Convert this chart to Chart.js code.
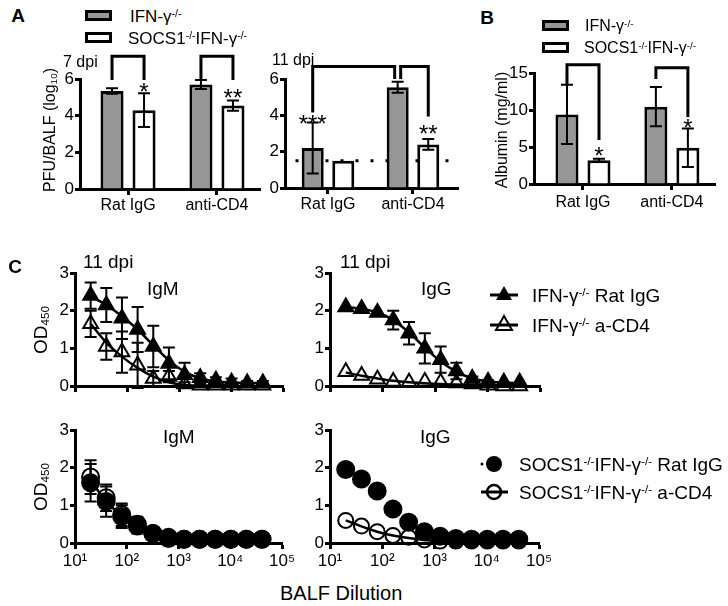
<!DOCTYPE html>
<html>
<head>
<meta charset="utf-8">
<script src="https://cdn.jsdelivr.net/npm/chart.js@4.4.0/dist/chart.umd.min.js"></script>
<style>
  body { margin: 0; background: #fff; }
  #page { position: relative; width: 728px; height: 606px; overflow: hidden;
          font-family: Arial, "Liberation Sans", sans-serif; color: #000; }
  canvas { position: absolute; }
  .t { position: absolute; white-space: nowrap; line-height: 1; transform: translateY(-50%); }
  .panel { position: absolute; font-size: 19px; font-weight: bold; line-height: 1; transform: translate(-50%, -50%); }
  .box { position: absolute; width: 21px; height: 5px; border: 3px solid #000; }
  .ytitle { position: absolute; white-space: nowrap; line-height: 1;
            transform: translate(-50%, -50%) rotate(-90deg); }
  sup { font-size: 62%; vertical-align: 0.45em; line-height: 0; }
  sub { font-size: 62%; vertical-align: -0.25em; line-height: 0; }
  svg { position: absolute; }
</style>
</head>
<body>
<div id="page">
  <canvas id="cA7"></canvas>
  <canvas id="cA11"></canvas>
  <canvas id="cB"></canvas>
  <canvas id="cTL"></canvas>
  <canvas id="cTR"></canvas>
  <canvas id="cBL"></canvas>
  <canvas id="cBR"></canvas>

  <!-- panel A -->
  <div class="panel" style="left:18px;top:15px">A</div>
  <div class="box" style="left:85px;top:10px;background:#969696"></div>
  <div class="t" style="left:130px;top:16px;font-size:17px">IFN-γ<sup>-/-</sup></div>
  <div class="box" style="left:85px;top:32px;background:#fff"></div>
  <div class="t" style="left:128px;top:38px;font-size:17px">SOCS1<sup>-/-</sup>IFN-γ<sup>-/-</sup></div>
  <div class="t" style="left:63px;top:62px;font-size:16px">7 dpi</div>
  <div class="t" style="left:272px;top:60px;font-size:16px">11 dpi</div>
  <div class="ytitle" style="left:50px;top:130px;font-size:16px">PFU/BALF (log<sub>10</sub>)</div>

  <!-- panel B -->
  <div class="panel" style="left:487px;top:17px">B</div>
  <div class="box" style="left:542px;top:20px;background:#969696"></div>
  <div class="t" style="left:585px;top:26px;font-size:16px">IFN-γ<sup>-/-</sup></div>
  <div class="box" style="left:542px;top:42px;background:#fff"></div>
  <div class="t" style="left:584px;top:48px;font-size:16px">SOCS1<sup>-/-</sup>IFN-γ<sup>-/-</sup></div>
  <div class="ytitle" style="left:502px;top:130px;font-size:16px">Albumin (mg/ml)</div>

  <!-- panel C -->
  <div class="panel" style="left:15px;top:266px">C</div>
  <div class="t" style="left:83px;top:261px;font-size:19px">11 dpi</div>
  <div class="t" style="left:340px;top:261px;font-size:19px">11 dpi</div>
  <div class="t" style="left:147px;top:288px;font-size:19px">IgM</div>
  <div class="t" style="left:421px;top:288px;font-size:19px">IgG</div>
  <div class="t" style="left:163px;top:436px;font-size:19px">IgM</div>
  <div class="t" style="left:420px;top:436px;font-size:19px">IgG</div>
  <div class="ytitle" style="left:40px;top:330px;font-size:19px">OD<sub>450</sub></div>
  <div class="ytitle" style="left:40px;top:487px;font-size:19px">OD<sub>450</sub></div>
  <div class="t" style="left:280px;top:593px;font-size:20px">BALF Dilution</div>

  <svg style="left:488px;top:280px" width="32" height="60">
    <line x1="2" y1="15" x2="30" y2="15" stroke="#000" stroke-width="3"/>
    <polygon points="16,6 24,20 8,20" fill="#000"/>
    <line x1="2" y1="45" x2="30" y2="45" stroke="#000" stroke-width="3"/>
    <polygon points="16,36 24,50 8,50" fill="none" stroke="#000" stroke-width="2"/>
  </svg>
  <div class="t" style="left:532px;top:295px;font-size:19px">IFN-γ<sup>-/-</sup> Rat IgG</div>
  <div class="t" style="left:532px;top:325px;font-size:19px">IFN-γ<sup>-/-</sup> a-CD4</div>

  <svg style="left:478px;top:450px" width="34" height="56">
    <circle cx="4" cy="14" r="1.5" fill="#000"/>
    <circle cx="16" cy="14" r="8" fill="#000"/>
    <line x1="3" y1="42" x2="30" y2="42" stroke="#000" stroke-width="3"/>
    <circle cx="16" cy="42" r="7" fill="none" stroke="#000" stroke-width="2.5"/>
  </svg>
  <div class="t" style="left:519px;top:464px;font-size:19px">SOCS1<sup>-/-</sup>IFN-γ<sup>-/-</sup> Rat IgG</div>
  <div class="t" style="left:519px;top:492px;font-size:19px">SOCS1<sup>-/-</sup>IFN-γ<sup>-/-</sup> a-CD4</div>
</div>

<script>
const FONT = 'Arial, "Liberation Sans", sans-serif';
Chart.defaults.font.family = FONT;
Chart.defaults.font.size = 16;
Chart.defaults.color = '#000';
Chart.defaults.animation = false;
Chart.defaults.plugins.legend.display = false;
Chart.defaults.plugins.tooltip.enabled = false;

////////////////////////////// DATA: PANELS A AND B //////////////////////////////
const groups = ['Rat IgG', 'anti-CD4'];

// PFU/BALF (log10), 7 dpi
const pfu7Ifn = [5.35, 5.7];
const pfu7IfnErr = [0.15, 0.25];
const pfu7Socs = [4.3, 4.55];
const pfu7SocsErr = [0.92, 0.28];

// PFU/BALF (log10), 11 dpi
const pfu11Ifn = [2.2, 5.55];
const pfu11IfnErr = [1.4, 0.3];
const pfu11Socs = [1.5, 2.4];
const pfu11SocsErr = [0, 0.3];
const pfuLimit = 1.5;

// Albumin (mg/ml)
const albIfn = [9.4, 10.45];
const albIfnErr = [4.0, 2.65];
const albSocs = [3.2, 4.9];
const albSocsErr = [0.2, 2.6];

////////////////////////////// DATA: PANEL C //////////////////////////////
const dilution = [20, 40, 80, 160, 320, 640, 1280, 2560, 5120, 10240, 20480, 40960];
const decades = [10, 100, 1000, 10000, 100000];

// IFN-g-/- , IgM
const igmIfnRat = [2.4, 2.15, 1.8, 1.5, 1.05, 0.6, 0.3, 0.22, 0.15, 0.1, 0.08, 0.08];
const igmIfnRatErr = [0.35, 0.45, 0.55, 0.6, 0.55, 0.42, 0.32, 0.12, 0.08, 0.1, 0.05, 0.05];
const igmIfnRatFit = [2.38, 2.15, 1.85, 1.5, 1.08, 0.68, 0.38, 0.2, 0.12, 0.09, 0.08, 0.08];
const igmIfnCd4 = [1.65, 1.05, 0.9, 0.55, 0.2, 0.25, 0.05, 0.02, 0.02, 0.02, 0.02, 0.02];
const igmIfnCd4Err = [0.35, 0.35, 0.55, 0.6, 0.2, 0.15, 0.05, 0.03, 0.02, 0.02, 0.02, 0.02];
const igmIfnCd4Fit = [1.65, 1.15, 0.78, 0.48, 0.25, 0.1, 0.03, 0.01, 0, 0, 0, 0];

// IFN-g-/- , IgG
const iggIfnRat = [2.1, 2.05, 1.95, 1.75, 1.4, 1.0, 0.7, 0.4, 0.2, 0.12, 0.1, 0.1];
const iggIfnRatErr = [0, 0, 0, 0.25, 0.3, 0.4, 0.35, 0.22, 0.05, 0.03, 0, 0];
const iggIfnRatFit = [2.1, 2.05, 1.95, 1.75, 1.42, 1.02, 0.65, 0.38, 0.2, 0.12, 0.09, 0.08];
const iggIfnCd4 = [0.38, 0.28, 0.18, 0.12, 0.1, 0.12, 0.1, 0.08, 0.05, 0.02, 0, 0];
const iggIfnCd4Err = [0, 0, 0, 0, 0, 0, 0, 0, 0, 0, 0, 0];
const iggIfnCd4Fit = [0.36, 0.27, 0.2, 0.14, 0.1, 0.07, 0.05, 0.04, 0.03, 0.03, 0.02, 0.02];

// SOCS1-/-IFN-g-/- , IgM
const igmSocsRat = [1.6, 1.1, 0.7, 0.45, 0.25, 0.15, 0.1, 0.1, 0.1, 0.1, 0.1, 0.1];
const igmSocsRatErr = [0.5, 0.4, 0.3, 0.2, 0, 0, 0, 0, 0, 0, 0, 0];
const igmSocsCd4 = [1.75, 1.2, 0.75, 0.5, 0.25, 0.12, 0.1, 0.1, 0.1, 0.1, 0.1, 0.1];
const igmSocsCd4Err = [0.45, 0.35, 0.3, 0.2, 0, 0, 0, 0, 0, 0, 0, 0];
const igmSocsFit = [1.65, 1.12, 0.72, 0.46, 0.26, 0.15, 0.1, 0.1, 0.1, 0.1, 0.1, 0.1];

// SOCS1-/-IFN-g-/- , IgG
const iggSocsRat = [1.95, 1.7, 1.38, 0.9, 0.55, 0.3, 0.18, 0.12, 0.1, 0.1, 0.1, 0.1];
const iggSocsCd4 = [0.6, 0.45, 0.3, 0.2, 0.15, 0.08, 0.05, 0.05, 0.05, 0.05, 0.05, 0.05];
const iggSocsCd4Fit = [0.6, 0.44, 0.3, 0.2, 0.13, 0.08, 0.05, 0.03, 0.02, 0.02, 0.02, 0.02];

const supDigits = { 1: '¹', 2: '²', 3: '³', 4: '⁴', 5: '⁵' };
const GRAY = '#969696';

////////////////////////////// PLUGINS //////////////////////////////
const errorBars = {
  id: 'errorBars',
  afterDatasetsDraw(chart) {
    const ctx = chart.ctx, ys = chart.scales.y;
    ctx.save();
    ctx.strokeStyle = '#000';
    chart.data.datasets.forEach((ds, i) => {
      if (!ds.err) return;
      const meta = chart.getDatasetMeta(i);
      ctx.lineWidth = ds.errWidth || 2;
      const cap = ds.errCap || 6;
      meta.data.forEach((el, j) => {
        const e = ds.err[j];
        if (!e) return;
        const raw = ds.data[j];
        const v = typeof raw === 'object' ? raw.y : raw;
        const yh = ys.getPixelForValue(v + e), yl = ys.getPixelForValue(v - e);
        ctx.beginPath();
        ctx.moveTo(el.x, yh); ctx.lineTo(el.x, yl);
        ctx.moveTo(el.x - cap, yh); ctx.lineTo(el.x + cap, yh);
        ctx.moveTo(el.x - cap, yl); ctx.lineTo(el.x + cap, yl);
        ctx.stroke();
      });
    });
    ctx.restore();
  }
};

const brackets = {
  id: 'brackets',
  beforeDatasetsDraw(chart, args, o) {
    if (o.lod == null) return;
    const { ctx, chartArea } = chart;
    const y = chart.scales.y.getPixelForValue(o.lod);
    ctx.save();
    ctx.fillStyle = '#000';
    for (let x = chartArea.left + 12; x < chartArea.right; x += 15) ctx.fillRect(x - 1.5, y - 1.5, 3, 3);
    ctx.restore();
  },
  afterDatasetsDraw(chart, args, o) {
    const ctx = chart.ctx, ys = chart.scales.y;
    const px = (p) => chart.getDatasetMeta(p[0]).data[p[1]].x + (p[2] || 0);
    ctx.save();
    ctx.strokeStyle = '#000';
    ctx.lineWidth = 3;
    (o.items || []).forEach(b => {
      const x1 = px(b.from), x2 = px(b.to), yt = ys.getPixelForValue(b.top);
      ctx.beginPath();
      ctx.moveTo(x1, ys.getPixelForValue(b.leftEnd));
      ctx.lineTo(x1, yt);
      ctx.lineTo(x2, yt);
      ctx.lineTo(x2, ys.getPixelForValue(b.rightEnd));
      ctx.stroke();
    });
    ctx.fillStyle = '#000';
    ctx.font = '24px ' + FONT;
    ctx.textAlign = 'center';
    ctx.textBaseline = 'alphabetic';
    (o.stars || []).forEach(s => {
      ctx.fillText(s.text, px(s.at), ys.getPixelForValue(s.y) + 14);
    });
    ctx.restore();
  }
};

////////////////////////////// HELPERS //////////////////////////////
function setup(id, box) {
  const c = document.getElementById(id);
  c.width = box.x1 - box.x0;
  c.height = box.y1 - box.y0;
  c.style.left = box.x0 + 'px';
  c.style.top = box.y0 + 'px';
  return c;
}

function yAxis(box, min, max, step) {
  return {
    min: min, max: max,
    ticks: { stepSize: step, padding: 1, font: { size: 17 } },
    grid: { drawOnChartArea: false, tickLength: 5, tickWidth: 3, tickColor: '#000' },
    border: { color: '#000', width: 3 },
    afterFit(s) { s.width = box.l - box.x0; }
  };
}

function padding(box) {
  return { top: box.t - box.y0, right: box.x1 - box.r, left: 0, bottom: 0 };
}

function barPts(vals) {
  return vals.map((v, i) => ({ x: i, y: v }));
}

function barChart(id, box, yMax, yStep, ifn, ifnErr, socs, socsErr, marks) {
  const barStyle = { borderColor: '#000', borderWidth: 3, borderSkipped: 'bottom',
                     categoryPercentage: 0.72, barPercentage: 0.72, errCap: 6 };
  return new Chart(setup(id, box), {
    type: 'bar',
    data: {
      datasets: [
        Object.assign({ data: barPts(ifn), err: ifnErr, backgroundColor: GRAY }, barStyle),
        Object.assign({ data: barPts(socs), err: socsErr, backgroundColor: '#fff' }, barStyle)
      ]
    },
    options: {
      responsive: false,
      layout: { padding: padding(box) },
      scales: {
        x: {
          type: 'linear', offset: false, min: box.xMin, max: box.xMax,
          afterBuildTicks(s) { s.ticks = groups.map((g, i) => ({ value: i })); },
          ticks: { padding: box.labelPad, font: { size: 16 }, autoSkip: false, maxRotation: 0,
                   callback: (v) => groups[v] },
          grid: { offset: false, drawOnChartArea: false, tickLength: 6, tickWidth: 3, tickColor: '#000' },
          border: { color: '#000', width: 3 },
          afterFit(s) { s.height = box.y1 - box.b; }
        },
        y: yAxis(box, 0, yMax, yStep)
      },
      plugins: { brackets: marks }
    },
    plugins: [errorBars, brackets]
  });
}

function pts(vals) {
  return dilution.map((d, i) => ({ x: d, y: vals[i] }));
}

function markerSet(vals, err, style, filled, radius) {
  return {
    data: pts(vals), err: err, showLine: false, order: 0, clip: false,
    pointStyle: style, pointRadius: radius, borderWidth: 2,
    pointBackgroundColor: filled ? '#000' : 'rgba(0,0,0,0)', pointBorderColor: '#000',
    errCap: 6, errWidth: 2
  };
}

function fitSet(vals) {
  return {
    data: pts(vals), showLine: true, order: 1, clip: false, pointRadius: 0,
    borderColor: '#000', borderWidth: 2.5, tension: 0.4, cubicInterpolationMode: 'monotone'
  };
}

function dilutionChart(id, box, showLabels, datasets) {
  return new Chart(setup(id, box), {
    type: 'scatter',
    data: { datasets: datasets },
    options: {
      responsive: false,
      layout: { padding: padding(box) },
      scales: {
        x: {
          type: 'logarithmic', min: 10, max: 100000,
          afterBuildTicks(s) { s.ticks = decades.map(v => ({ value: v })); },
          ticks: {
            display: showLabels, autoSkip: false, maxRotation: 0, padding: 2, font: { size: 17 },
            callback: (v) => '10' + supDigits[Math.round(Math.log10(v))]
          },
          grid: { drawOnChartArea: false, tickLength: 6, tickWidth: 3, tickColor: '#000' },
          border: { color: '#000', width: 3 },
          afterFit(s) { s.height = box.y1 - box.b; }
        },
        y: yAxis(box, 0, 3, 1)
      }
    },
    plugins: [errorBars]
  });
}

////////////////////////////// PANEL A //////////////////////////////
barChart('cA7',
  { x0: 0, y0: 40, x1: 266, y1: 222, l: 80, t: 79, r: 260, b: 189, labelPad: 1, xMin: -0.54, xMax: 1.484 },
  6, 2, pfu7Ifn, pfu7IfnErr, pfu7Socs, pfu7SocsErr,
  {
    items: [
      { from: [0, 0], to: [1, 0], top: 7.24, leftEnd: 5.95, rightEnd: 5.95 },
      { from: [0, 1], to: [1, 1], top: 7.24, leftEnd: 5.95, rightEnd: 5.95 }
    ],
    stars: [
      { at: [1, 0], text: '*', y: 5.62 },
      { at: [1, 1], text: '**', y: 5.3 }
    ]
  });

barChart('cA11',
  { x0: 240, y0: 40, x1: 465, y1: 222, l: 285, t: 79, r: 458, b: 188, labelPad: 1, xMin: -0.506, xMax: 1.53 },
  6, 2, pfu11Ifn, pfu11IfnErr, pfu11Socs, pfu11SocsErr,
  {
    lod: pfuLimit,
    items: [
      { from: [0, 0], to: [0, 1, -3], top: 6.69, leftEnd: 4.16, rightEnd: 6.0 },
      { from: [0, 1, 3], to: [1, 1], top: 6.69, leftEnd: 6.0, rightEnd: 3.93 }
    ],
    stars: [
      { at: [0, 0], text: '***', y: 3.88 },
      { at: [1, 1], text: '**', y: 3.3 }
    ]
  });

////////////////////////////// PANEL B //////////////////////////////
barChart('cB',
  { x0: 470, y0: 40, x1: 724, y1: 222, l: 534, t: 73, r: 715, b: 184, labelPad: 3, xMin: -0.551, xMax: 1.485 },
  15, 5, albIfn, albIfnErr, albSocs, albSocsErr,
  {
    items: [
      { from: [0, 0], to: [1, 0], top: 16.1, leftEnd: 13.4, rightEnd: 5.95 },
      { from: [0, 1], to: [1, 1], top: 15.7, leftEnd: 14.2, rightEnd: 9.05 }
    ],
    stars: [
      { at: [1, 0], text: '*', y: 4.6 },
      { at: [1, 1], text: '*', y: 8.4 }
    ]
  });

////////////////////////////// PANEL C //////////////////////////////
dilutionChart('cTL', { x0: 0, y0: 255, x1: 297, y1: 400, l: 75, t: 273, r: 283, b: 386 }, false, [
  markerSet(igmIfnRat, igmIfnRatErr, 'triangle', true, 8.5),
  markerSet(igmIfnCd4, igmIfnCd4Err, 'triangle', false, 8.5),
  fitSet(igmIfnRatFit),
  fitSet(igmIfnCd4Fit)
]);

dilutionChart('cTR', { x0: 300, y0: 255, x1: 554, y1: 400, l: 330, t: 273, r: 540, b: 386 }, false, [
  markerSet(iggIfnRat, iggIfnRatErr, 'triangle', true, 8.5),
  markerSet(iggIfnCd4, iggIfnCd4Err, 'triangle', false, 8.5),
  fitSet(iggIfnRatFit),
  fitSet(iggIfnCd4Fit)
]);

dilutionChart('cBL', { x0: 0, y0: 415, x1: 297, y1: 578, l: 75, t: 430, r: 283, b: 543 }, true, [
  markerSet(igmSocsRat, igmSocsRatErr, 'circle', true, 8.5),
  markerSet(igmSocsCd4, igmSocsCd4Err, 'circle', false, 8.5),
  fitSet(igmSocsFit)
]);

dilutionChart('cBR', { x0: 300, y0: 415, x1: 554, y1: 578, l: 330, t: 430, r: 540, b: 543 }, true, [
  markerSet(iggSocsRat, null, 'circle', true, 8.5),
  markerSet(iggSocsCd4, null, 'circle', false, 7.5),
  fitSet(iggSocsCd4Fit)
]);
</script>
</body>
</html>
